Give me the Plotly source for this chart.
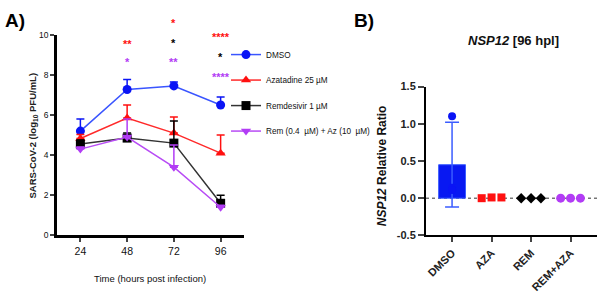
import plotly.graph_objects as go

W, H = 600, 298

# ---------------- Panel A data ----------------
hours = [24, 48, 72, 96]
dmso = [5.2, 7.27, 7.45, 6.5]
dmso_err = [0.6, 0.5, 0.2, 0.4]
aza = [4.83, 5.85, 5.1, 4.1]
aza_err = [0.2, 0.65, 0.8, 0.9]
rem = [4.55, 4.85, 4.6, 1.6]
rem_err = [0.2, 0.25, 1.1, 0.4]
combo = [4.3, 4.9, 3.4, 1.4]
combo_err = [0.1, 0.9, 1.1, 0.1]

series_names = ["DMSO", "Azatadine 25 µM", "Remdesivir 1 µM", "Rem (0.4  µM) + Az (10  µM)"]

# significance annotations: (hour, level, label, colour key)
stars = [
    (48, 9.43, "**", "aza"), (48, 8.52, "*", "combo"),
    (72, 10.48, "*", "aza"), (72, 9.47, "*", "rem"), (72, 8.52, "**", "combo"),
    (96, 9.81, "****", "aza"), (96, 8.80, "*", "rem"), (96, 7.80, "****", "combo"),
]
Y_MAX_A = 10

# ---------------- Panel B data ----------------
groups = ["DMSO", "AZA", "REM", "REM+AZA"]
b_points = [[1.10, 0.14, 0.11], [0.0, 0.01, 0.01], [0.0, 0.0, 0.0], [0.0, 0.0, 0.0]]
dmso_mean = 0.45
dmso_sd = 0.57
b_ticks = [-0.5, 0.0, 0.5, 1.0, 1.5]

COL = {"dmso": "#0a14f5", "aza": "#ff1010", "rem": "#000000", "combo": "#b23cf5"}
LINECOL = {"dmso": "#3a55ff", "aza": "#ff2a2a", "rem": "#333333", "combo": "#b84cf5"}
ARIAL = "Liberation Sans, Arial, sans-serif"

fig = go.Figure()

def add_series(key, name, y, err, symbol, size):
    fig.add_trace(go.Scatter(
        x=hours, y=y, name=name, mode="lines+markers", legendgroup=key,
        line=dict(color=LINECOL[key], width=1.5),
        marker=dict(color=COL[key], symbol=symbol, size=size),
        error_y=dict(type="data", symmetric=False, array=err,
                     arrayminus=[0] * len(err), color=COL[key],
                     thickness=1.5, width=4),
        xaxis="x", yaxis="y", cliponaxis=False,
    ))

add_series("dmso", series_names[0], dmso, dmso_err, "circle", 9)
add_series("aza", series_names[1], aza, aza_err, "triangle-up", 9)
add_series("rem", series_names[2], rem, rem_err, "square", 9)
add_series("combo", series_names[3], combo, combo_err, "triangle-down", 9)

annotations = []
for hx, lvl, lab, key in stars:
    annotations.append(dict(x=hx, y=lvl / Y_MAX_A, xref="x", yref="y domain",
                            text="<b>%s</b>" % lab, showarrow=False, yshift=2,
                            xanchor="center", yanchor="middle",
                            font=dict(family=ARIAL, size=11, color=COL[key])))

# ---------------- Panel B traces ----------------
fig.add_trace(go.Bar(
    x=[0], y=[dmso_mean], width=0.68, showlegend=False,
    marker=dict(color="#0818f2", line=dict(color="#3a5cff", width=1)),
    error_y=dict(type="data", array=[dmso_sd], color="#3a5cff", thickness=1.5, width=7),
    xaxis="x2", yaxis="y2",
))
jitter = [-0.25, 0.0, 0.25]
b_style = [("dmso", "circle", 8), ("aza", "square", 8), ("rem", "diamond", 8), ("combo", "circle", 9)]
for gi, (vals, (key, sym, sz)) in enumerate(zip(b_points, b_style)):
    xs = [gi] * len(vals) if gi == 0 else [gi + j for j in jitter]
    fig.add_trace(go.Scatter(
        x=xs, y=vals, mode="markers", showlegend=False,
        marker=dict(color=COL[key], symbol=sym, size=sz),
        xaxis="x2", yaxis="y2", cliponaxis=False,
    ))

def px_x(p):
    return p / W

def px_y(p):
    return 1 - p / H

def txt(text, x, y, size, angle=0, xa="center", ya="middle", color="#111"):
    return dict(text=text, x=px_x(x), y=px_y(y), xref="paper", yref="paper",
                xanchor=xa, yanchor=ya, showarrow=False, textangle=angle,
                font=dict(family=ARIAL, size=size, color=color))

annotations += [
    txt("<b>A)</b>", 3, 2, 19, xa="left", ya="top", color="black"),
    txt("<b>B)</b>", 352, 2, 19, xa="left", ya="top", color="black"),
    txt("<b>SARS-CoV-2 (log<sub>10</sub> PFU/mL)</b>", 33, 135, 9.5, angle=-90, color="#222"),
    txt("Time (hours post infection)", 150, 284, 9.5),
    txt("<b><i>NSP12</i> [96 hpl]</b>", 513, 36, 13),
    txt("<b><i>NSP12</i> Relative Ratio</b>", 382, 167, 12, angle=-90),
]

fig.update_layout(
    width=W, height=H,
    margin=dict(l=0, r=0, t=0, b=0),
    paper_bgcolor="white", plot_bgcolor="white",
    showlegend=True,
    legend=dict(x=px_x(226), y=px_y(35.5), xanchor="left", yanchor="top",
                font=dict(family=ARIAL, size=8.2, color="#111"),
                itemwidth=30, tracegroupgap=6.5, traceorder="grouped",
                bgcolor="rgba(0,0,0,0)"),
    annotations=annotations,
    xaxis=dict(domain=[px_x(57), px_x(244)], range=[12, 108],
               tickvals=hours, ticks="outside", ticklen=4, tickwidth=1.5,
               showline=True, linewidth=2.5, linecolor="black",
               showgrid=False, zeroline=False,
               tickfont=dict(family=ARIAL, size=10.5, color="#111"), anchor="y"),
    yaxis=dict(domain=[px_y(239), px_y(30)], range=[0, Y_MAX_A],
               tickvals=[0, 2, 4, 6, 8, 10], ticks="outside", ticklen=4, tickwidth=1.5,
               showline=True, linewidth=2.5, linecolor="black",
               showgrid=False, zeroline=False,
               tickfont=dict(family=ARIAL, size=8.5, color="#111"), anchor="x"),
    xaxis2=dict(domain=[px_x(426), px_x(597)], range=[-0.66, 3.67],
                tickvals=list(range(len(groups))),
                ticktext=["<b>%s</b>" % g for g in groups], tickangle=-45,
                ticks="outside", ticklen=5, tickwidth=1.5,
                showline=True, linewidth=2, linecolor="black",
                showgrid=False, zeroline=False,
                tickfont=dict(family=ARIAL, size=11, color="#222"), anchor="y2"),
    yaxis2=dict(domain=[px_y(239), px_y(84)], range=[-0.5, 1.5],
                tickvals=b_ticks, ticktext=["<b>%.1f</b>" % t for t in b_ticks],
                ticks="outside", ticklen=6, tickwidth=1.5,
                showline=True, linewidth=2, linecolor="black",
                showgrid=False, zeroline=False,
                tickfont=dict(family=ARIAL, size=11, color="#222"), anchor="x2"),
    shapes=[dict(type="line", xref="x2 domain", yref="y2", x0=0, x1=1, y0=0, y1=0,
                 line=dict(color="#333", width=1, dash="dot"), layer="below")],
)

fig.write_html("out.html")
